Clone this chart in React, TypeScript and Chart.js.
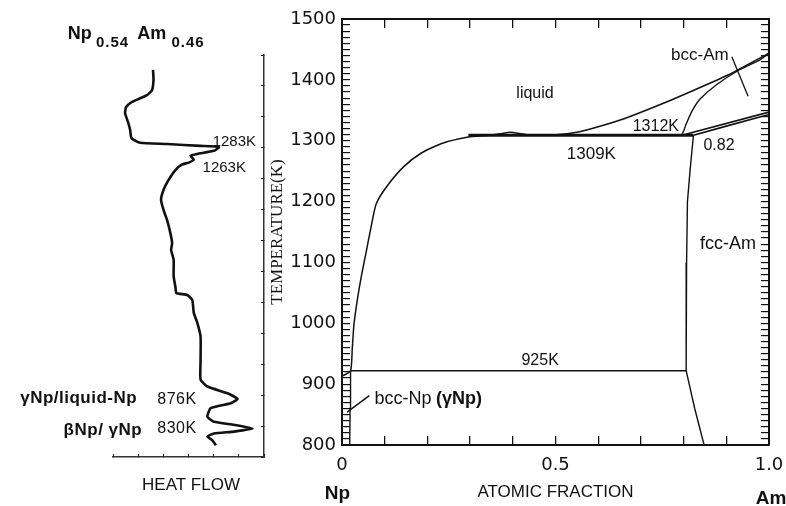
import React, { useEffect, useRef } from 'react';
import { Chart, registerables } from 'chart.js';

Chart.register(...registerables);

const SANS = '"Liberation Sans", Arial, Helvetica, sans-serif';
const TICKFONT = '"DejaVu Sans", "Liberation Sans", Arial, sans-serif';
const SERIF = '"Liberation Serif", "Times New Roman", serif';
const INK = '#111';

// ---------- DTA (left panel) ----------
const dtaHeatFlow = [1.59, 1.61, 1.55, 1.35, 1.08, 0.75, 0.52, 0.48, 0.61, 0.68, 0.72, 0.81, 1.08, 2.15, 3.48, 4.21, 4.01, 3.35, 3.08, 3.21, 3.01, 2.75, 2.48, 2.21, 2.01, 1.91, 2.01, 2.15, 2.28, 2.35, 2.31, 2.41, 2.41, 2.48, 2.52, 2.95, 3.15, 3.21, 3.35, 3.48, 3.48, 3.48, 3.75, 4.55, 4.95, 4.68, 3.88, 3.75, 4.01, 4.81, 5.55, 4.81, 4.01, 3.75, 3.95, 4.09];
const dtaTemperature = [1406, 1390, 1373, 1365, 1360, 1354, 1346, 1336, 1320, 1309, 1297, 1293, 1288, 1286, 1283, 1281, 1275, 1270, 1267, 1261, 1256, 1253, 1244, 1228, 1212, 1196, 1179, 1163, 1142, 1126, 1115, 1099, 1072, 1055, 1045, 1042, 1034, 1013, 997, 975, 937, 905, 894, 883, 874, 867, 859, 845, 837, 832, 826, 821, 818, 813, 807, 799];
const dtaTempTicks = [780, 830, 880, 930, 980, 1030, 1080, 1130, 1180, 1230, 1280, 1330, 1380, 1430];
const dtaHeatTicks = [0, 1, 2, 3, 4, 5, 6];

// ---------- Phase diagram (right panel) ----------
const xTicks = [0, 0.1, 0.2, 0.3, 0.4, 0.5, 0.6, 0.7, 0.8, 0.9, 1.0];
const xTickLabels = ['0', '', '', '', '', '0.5', '', '', '', '', '1.0'];
const yTickLabels = [800, 900, 1000, 1100, 1200, 1300, 1400, 1500];
const yMinorTicks = Array.from({ length: 71 }, (_, i) => 800 + 10 * i);

const liquidusX = [0, 0.02, 0.024, 0.028, 0.036, 0.046, 0.056, 0.068, 0.08, 0.104, 0.144, 0.184, 0.232, 0.296, 0.344, 0.376, 0.392, 0.416, 0.44, 0.5, 0.55, 0.6, 0.664, 0.744, 0.824, 0.904, 0.95, 1.0];
const liquidusT = [913, 922, 958, 998, 1039, 1080, 1115, 1158, 1196, 1224, 1257, 1279, 1295, 1306, 1309, 1312, 1314, 1312, 1309, 1310, 1314, 1323, 1337, 1359, 1383, 1408, 1425, 1444];
const plateauX = [0.296, 0.823];
const plateauT = [1309, 1309];
const bccSolidusX = [0.796, 0.8, 0.807, 0.82, 0.838, 0.877, 0.932, 0.979, 1.0];
const bccSolidusT = [1309, 1316, 1329, 1349, 1368, 1392, 1417, 1433, 1444];
const bccFccUpperX = [0.796, 1.0];
const bccFccUpperT = [1309, 1347];
const bccFccLowerX = [0.823, 0.9, 1.0];
const bccFccLowerT = [1309, 1324, 1343];
const fccSolvusX = [0.823, 0.815, 0.809, 0.807, 0.806, 0.806, 0.826, 0.848];
const fccSolvusT = [1309, 1250, 1200, 1100, 1000, 922, 860, 800];
const eutectoidX = [0.02, 0.806];
const eutectoidT = [922, 922];
const bccNpX = [0.018, 0.019, 0.02];
const bccNpT = [800, 860, 922];
const bccAmPointerX = [0.913, 0.951];
const bccAmPointerT = [1438, 1373];
const bccNpPointerX = [0.012, 0.064];
const bccNpPointerT = [854, 881];

const pts = (xs: number[], ys: number[]) => xs.map((x, i) => ({ x, y: ys[i] }));
const line = (xs: number[], ys: number[], width: number, tension = 0) => ({
  data: pts(xs, ys),
  showLine: true,
  borderColor: INK,
  borderWidth: width,
  pointRadius: 0,
  fill: false,
  tension,
});

const mainLabels = [
  { text: 'liquid', x: 0.452, y: 1377, font: `16px ${SANS}`, align: 'center', baseline: 'middle' },
  { text: 'bcc-Am', x: 0.838, y: 1441, font: `17px ${SANS}`, align: 'center', baseline: 'middle' },
  { text: '1312K', x: 0.735, y: 1322.5, font: `16px ${SANS}`, align: 'center', baseline: 'middle' },
  { text: '0.82', x: 0.883, y: 1292, font: `16px ${SANS}`, align: 'center', baseline: 'middle' },
  { text: '1309K', x: 0.584, y: 1278, font: `17px ${SANS}`, align: 'center', baseline: 'middle' },
  { text: 'fcc-Am', x: 0.904, y: 1130, font: `18px ${SANS}`, align: 'center', baseline: 'middle' },
  { text: '925K', x: 0.464, y: 939, font: `16px ${SANS}`, align: 'center', baseline: 'middle' },
  { text: 'bcc-Np', x: 0.076, y: 876, font: `18px ${SANS}`, align: 'left', baseline: 'middle' },
  { text: '(γNp)', x: 0.22, y: 876, font: `bold 18px ${SANS}`, align: 'left', baseline: 'middle' },
  { text: 'Np', x: -0.0105, y: 712, font: `bold 19px ${SANS}`, align: 'center', baseline: 'alphabetic' },
  { text: 'Am', x: 1.005, y: 703.6, font: `bold 19px ${SANS}`, align: 'center', baseline: 'alphabetic' },
];

const leftLabels = [
  { text: 'Np', x: -1.8, y: 1456.6, font: `bold 18px ${SANS}` },
  { text: '0.54', x: -0.68, y: 1442.9, font: `bold 15px ${SANS}`, spacing: '1px' },
  { text: 'Am', x: 0.96, y: 1456.6, font: `bold 18px ${SANS}` },
  { text: '0.46', x: 2.32, y: 1442.9, font: `bold 15px ${SANS}`, spacing: '1px' },
  { text: '1283K', x: 3.96, y: 1282.8, font: `15px ${SANS}` },
  { text: '1263K', x: 3.56, y: 1240.8, font: `15px ${SANS}` },
  { text: 'γNp/liquid-Np', x: 0.96, y: 867.3, font: `bold 17px ${SANS}`, align: 'right', spacing: '0.5px' },
  { text: 'βNp/ γNp', x: 1.16, y: 815.6, font: `bold 17px ${SANS}`, align: 'right', spacing: '0.5px' },
  { text: '876K', x: 1.76, y: 865.7, font: `16px ${SANS}`, spacing: '0.5px' },
  { text: '830K', x: 1.76, y: 818.8, font: `16px ${SANS}`, spacing: '0.5px' },
  { text: 'HEAT FLOW', x: 3.1, y: 726.6, font: `17px ${SANS}`, align: 'center' },
];

const labelPlugin = (id: string, labels: any[]) => ({
  id,
  afterDraw(chart: any) {
    const { ctx } = chart;
    const xs = chart.scales.x;
    const ys = chart.scales.y;
    ctx.save();
    ctx.fillStyle = INK;
    for (const l of labels) {
      ctx.font = l.font;
      ctx.textAlign = l.align || 'left';
      ctx.textBaseline = l.baseline || 'alphabetic';
      (ctx as any).letterSpacing = l.spacing || '0px';
      ctx.fillText(l.text, xs.getPixelForValue(l.x), ys.getPixelForValue(l.y));
    }
    ctx.restore();
  },
});

const tickGrid = (len: number, width = 1.3) => ({
  display: true,
  drawOnChartArea: false,
  drawTicks: true,
  tickLength: len,
  color: INK,
  lineWidth: width,
});

// fix an axis' thickness and drop the label overflow padding so the plot area is exact
const fixSize = (prop: 'width' | 'height', size: number) => (s: any) => {
  s[prop] = size;
  s.paddingLeft = 0;
  s.paddingRight = 0;
  s.paddingTop = 0;
  s.paddingBottom = 0;
};

export default function App() {
  const leftRef = useRef<HTMLCanvasElement>(null);
  const mainRef = useRef<HTMLCanvasElement>(null);

  useEffect(() => {
    const leftChart = new Chart(leftRef.current as HTMLCanvasElement, {
      type: 'scatter',
      data: {
        datasets: [line(dtaHeatFlow, dtaTemperature, 2.6, 0.15) as any],
      },
      options: {
        responsive: false,
        animation: false,
        events: [],
        layout: { padding: { left: 113, right: 2, top: 55, bottom: 49 } },
        plugins: { legend: { display: false }, tooltip: { enabled: false } },
        scales: {
          x: {
            type: 'linear',
            position: 'bottom',
            min: 0,
            max: 6,
            afterBuildTicks: (s: any) => { s.ticks = dtaHeatTicks.map((v) => ({ value: v })); },
            afterFit: fixSize('height', 0),
            grid: tickGrid(-3, 1),
            border: { display: true, color: '#333', width: 1.5 },
            ticks: { display: false },
          },
          y: {
            type: 'linear',
            position: 'right',
            min: 780,
            max: 1430,
            afterBuildTicks: (s: any) => { s.ticks = dtaTempTicks.map((v) => ({ value: v })); },
            afterFit: fixSize('width', 0),
            grid: tickGrid(-3, 1),
            border: { display: true, color: '#333', width: 1.5 },
            ticks: { display: false },
          },
        },
      } as any,
      plugins: [labelPlugin('leftLabels', leftLabels)],
    });

    const frame = { display: true, color: INK, width: 2 };
    const mainChart = new Chart(mainRef.current as HTMLCanvasElement, {
      type: 'scatter',
      data: {
        datasets: [
          line(liquidusX, liquidusT, 1.5, 0.2),
          line(plateauX, plateauT, 3),
          line(bccSolidusX, bccSolidusT, 1.4, 0.2),
          line(bccFccUpperX, bccFccUpperT, 1.6),
          line(bccFccLowerX, bccFccLowerT, 1.6),
          line(fccSolvusX, fccSolvusT, 1.4),
          line(eutectoidX, eutectoidT, 1.6),
          line(bccNpX, bccNpT, 1.4),
          line(bccAmPointerX, bccAmPointerT, 1.3),
          line(bccNpPointerX, bccNpPointerT, 1.5),
        ] as any,
      },
      options: {
        responsive: false,
        animation: false,
        events: [],
        layout: { padding: { left: 0, right: 17, top: 19, bottom: 0 } },
        plugins: { legend: { display: false }, tooltip: { enabled: false } },
        scales: {
          x: {
            type: 'linear',
            position: 'bottom',
            min: 0,
            max: 1,
            afterBuildTicks: (s: any) => { s.ticks = xTicks.map((v) => ({ value: v })); },
            afterFit: fixSize('height', 61),
            grid: tickGrid(-9),
            border: frame,
            ticks: {
              autoSkip: false,
              maxRotation: 0,
              padding: 19,
              color: INK,
              font: { family: TICKFONT, size: 18 },
              callback: (_v: any, i: number) => xTickLabels[i],
            },
            title: {
              display: true,
              text: 'ATOMIC FRACTION',
              color: INK,
              font: { family: SANS, size: 17 },
              padding: { top: 0, bottom: 3 },
            },
          },
          x2: {
            type: 'linear',
            position: 'top',
            min: 0,
            max: 1,
            afterBuildTicks: (s: any) => { s.ticks = xTicks.map((v) => ({ value: v })); },
            afterFit: fixSize('height', 0),
            grid: tickGrid(-9),
            border: frame,
            ticks: { display: false },
          },
          y: {
            type: 'linear',
            position: 'left',
            min: 800,
            max: 1500,
            afterBuildTicks: (s: any) => { s.ticks = yMinorTicks.map((v) => ({ value: v })); },
            afterFit: fixSize('width', 76),
            grid: tickGrid(-8, 1.2),
            border: frame,
            ticks: {
              autoSkip: false,
              padding: 14,
              color: INK,
              font: { family: TICKFONT, size: 18 },
              callback: (v: any) => (yTickLabels.includes(v) ? String(v) : ''),
            },
            title: {
              display: true,
              text: 'TEMPERATURE(K)',
              color: INK,
              font: { family: SERIF, size: 17 },
              padding: { top: 1, bottom: 0 },
            },
          },
          y2: {
            type: 'linear',
            position: 'right',
            min: 800,
            max: 1500,
            afterBuildTicks: (s: any) => { s.ticks = yMinorTicks.map((v) => ({ value: v })); },
            afterFit: fixSize('width', 0),
            grid: tickGrid(-8, 1.2),
            border: frame,
            ticks: { display: false },
          },
        },
      } as any,
      plugins: [labelPlugin('mainLabels', mainLabels)],
    });

    return () => {
      leftChart.destroy();
      mainChart.destroy();
    };
  }, []);

  return (
    <div style={{ position: 'fixed', left: 0, top: 0, width: 786, height: 506, background: '#fff' }}>
      <canvas
        ref={leftRef}
        width={266}
        height={506}
        style={{ position: 'absolute', left: 0, top: 0, width: 266, height: 506 }}
      />
      <canvas
        ref={mainRef}
        width={520}
        height={506}
        style={{ position: 'absolute', left: 266, top: 0, width: 520, height: 506 }}
      />
    </div>
  );
}
